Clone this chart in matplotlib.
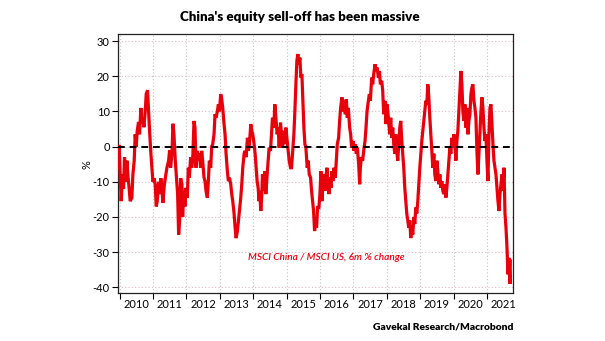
import matplotlib
matplotlib.use("Agg")
import matplotlib.pyplot as plt
import numpy as np

plt.rcParams['font.family'] = ['Lato', 'DejaVu Sans']

RED = '#e8000b'

years = list(range(2010, 2022))
year_labels = [str(y) for y in years]
y_ticks = [-40, -30, -20, -10, 0, 10, 20, 30]

dates = [
    2009.96, 2009.99, 2010.02, 2010.05, 2010.09, 2010.12, 2010.15, 2010.19, 2010.22, 2010.25,
    2010.29, 2010.32, 2010.37, 2010.40, 2010.44, 2010.47, 2010.50, 2010.53, 2010.57, 2010.60,
    2010.64, 2010.67, 2010.70, 2010.73, 2010.77, 2010.80, 2010.84, 2010.87, 2010.90, 2010.94,
    2010.97, 2011.00, 2011.04, 2011.07, 2011.10, 2011.13, 2011.17, 2011.20, 2011.24, 2011.27,
    2011.30, 2011.34, 2011.37, 2011.42, 2011.47, 2011.50, 2011.53, 2011.57, 2011.60, 2011.63,
    2011.67, 2011.70, 2011.74, 2011.77, 2011.80, 2011.83,
    2011.87, 2011.89, 2011.92, 2011.96, 2011.99, 2012.03, 2012.06, 2012.09, 2012.13, 2012.16,
    2012.19, 2012.23, 2012.26, 2012.29, 2012.33, 2012.36, 2012.39, 2012.43, 2012.46, 2012.49,
    2012.53, 2012.56, 2012.59, 2012.63, 2012.66, 2012.69, 2012.73, 2012.76, 2012.79, 2012.83,
    2012.86, 2012.89, 2012.93, 2012.96, 2012.99, 2013.03, 2013.06, 2013.09, 2013.13, 2013.16,
    2013.19, 2013.23, 2013.26, 2013.29, 2013.33, 2013.36, 2013.39, 2013.43, 2013.46, 2013.49,
    2013.53, 2013.56, 2013.59, 2013.63, 2013.66, 2013.69, 2013.73, 2013.76, 2013.79, 2013.83,
    2013.86, 2013.89, 2013.93, 2013.96, 2013.99, 2014.03, 2014.06, 2014.09,
    2014.12, 2014.15, 2014.18, 2014.20, 2014.23, 2014.26, 2014.28, 2014.32, 2014.35, 2014.38,
    2014.42, 2014.45, 2014.48, 2014.52, 2014.55, 2014.58, 2014.62, 2014.65, 2014.68, 2014.72,
    2014.75, 2014.78, 2014.82, 2014.85, 2014.88, 2014.92, 2014.95, 2014.98, 2015.02, 2015.05,
    2015.08, 2015.12, 2015.15, 2015.18, 2015.22, 2015.25, 2015.28, 2015.31, 2015.34, 2015.37,
    2015.40, 2015.43, 2015.46, 2015.49, 2015.52, 2015.55, 2015.58, 2015.62, 2015.65, 2015.68,
    2015.72, 2015.75, 2015.78, 2015.81, 2015.84, 2015.87, 2015.90, 2015.93,
    2015.97, 2016.00, 2016.03, 2016.06, 2016.09, 2016.12, 2016.15, 2016.18, 2016.21, 2016.24,
    2016.27, 2016.30, 2016.33, 2016.36, 2016.39, 2016.42, 2016.46, 2016.49, 2016.52, 2016.56,
    2016.59, 2016.62, 2016.66, 2016.69, 2016.72, 2016.76, 2016.79, 2016.82, 2016.85, 2016.89,
    2016.92, 2016.95, 2016.99, 2017.02, 2017.06, 2017.09, 2017.12, 2017.16, 2017.19, 2017.21,
    2017.24, 2017.28, 2017.31, 2017.35, 2017.38, 2017.41, 2017.45, 2017.48, 2017.51, 2017.55,
    2017.58, 2017.61, 2017.65, 2017.68, 2017.71, 2017.75, 2017.78, 2017.81, 2017.85, 2017.88,
    2017.91, 2017.95, 2017.98, 2018.01, 2018.05,
    2018.09, 2018.12, 2018.15, 2018.18, 2018.21, 2018.24, 2018.27, 2018.30, 2018.33, 2018.36,
    2018.39, 2018.42, 2018.45, 2018.48, 2018.51, 2018.54, 2018.57, 2018.60, 2018.63, 2018.66,
    2018.69, 2018.72, 2018.75, 2018.78, 2018.81, 2018.84, 2018.87, 2018.90, 2018.93, 2018.96,
    2018.99, 2019.02, 2019.05, 2019.08, 2019.11, 2019.14, 2019.17, 2019.20, 2019.23, 2019.26,
    2019.29, 2019.32, 2019.35, 2019.38, 2019.41, 2019.44, 2019.47, 2019.50, 2019.53, 2019.56,
    2019.59, 2019.62, 2019.65, 2019.68, 2019.71, 2019.74, 2019.77, 2019.80, 2019.83, 2019.86,
    2019.89, 2019.92, 2019.95, 2019.98, 2020.01, 2020.04, 2020.07, 2020.10, 2020.13,
    2020.16, 2020.19, 2020.22, 2020.25, 2020.28, 2020.31, 2020.34, 2020.37, 2020.40, 2020.43,
    2020.46, 2020.49, 2020.52, 2020.55, 2020.58, 2020.61, 2020.64, 2020.67, 2020.70, 2020.73,
    2020.76, 2020.79, 2020.82, 2020.85, 2020.88, 2020.91, 2020.94, 2020.97, 2021.00, 2021.03,
    2021.06, 2021.09, 2021.12, 2021.15, 2021.18, 2021.21, 2021.24, 2021.27, 2021.30, 2021.33,
    2021.36, 2021.39, 2021.42, 2021.45, 2021.48, 2021.51, 2021.54, 2021.57, 2021.60, 2021.63,
    2021.66, 2021.69, 2021.70,
]

values = [
    -6, 0.5, -8, -15.5, -8, -12, -3, -10, -4, -8,
    -12, -15.5, -14.5, -8, -4, 3.5, 0, 4.5, 7, 3.5,
    11, 6.5, 8, 5.5, 10, 15, 16, 10, 4.5, -2,
    -6, -10, -9, -11, -17, -15.5, -10, -13.5, -9, -12,
    -16, -11, -9, -6, -4, -1, -6, -2, 6.5, 3.5,
    -4, -8, -13.5, -25, -21, -9,
    -10.7, -20, -12.6, -17, -11.7, -14.5, -6, -8.8, -3, -6,
    -4, 7.3, 5.4, -6, -1.2, -4, -2, -6, -1.2, -4,
    -8.8, -9.8, -12.6, -14.5, -9.8, -4, -6, 0, 0.7, 3.5,
    9.2, 8.2, 10, 12, 10, 14.9, 13.5, 11, 6.4, 3.5,
    -2, -7, -9.8, -8.8, -10.7, -13.5, -15.5, -19, -23, -26,
    -24, -21, -18.3, -14.5, -10.7, -6, -2, -1.2, -3, 2.5,
    -1.2, 0.7, 6.4, 4.5, 3.5, 0.7, -2, -6,
    -9.8, -11.7, -15.5, -12.6, -18.3, -13.5, -7.9, -12.6, -7, -13.5,
    -7.9, -4, -0.3, -1.2, 3.5, 8.2, 5.4, 12, 8.2, 3.5,
    5.4, -0.3, 6.8, 3.5, -0.3, 4.5, 0.7, 5.4, 1.6, -1.2,
    -4, -6, -6, -2, 3.5, 10, 17.7, 24.4, 26.3, 23.4,
    25.3, 19.6, 20.6, 13, 5.4, 0.7, -0.3, -6, -4, -7.9,
    -8.8, -12.6, -15.5, -18.3, -24, -21, -23, -17.3,
    -17.3, -13.5, -7, -15.5, -10.7, -7.9, -12.6, -8.8, -6, -9.8,
    -13.5, -8.8, -11.7, -7, -9.8, -6, -8.8, -4, 0.7, 2.5,
    7.3, 11, 14, 10, 13, 9.2, 13.5, 8.2, 11, 5.4,
    3.5, -0.3, 1.6, -1.2, 0.7, -2, -0.3, -5, -10.7, -6,
    -3, -4, -1.2, 1.6, 5.4, 10, 13, 14.9, 13, 19.6,
    17.7, 20.6, 23.4, 21.5, 22.5, 19.6, 21.5, 17.7, 18.7, 15.8,
    9.2, 13, 6.4, 12, 8.2,
    3.5, 8.2, 2.5, 5.4, 0.7, -2, 3.5, -1.2, -4, 0.7,
    5.4, 7.3, 1.6, -2, -6, -11.7, -15.5, -19, -21, -23,
    -21, -26, -23, -25, -20, -22, -17.3, -19, -15.5, -10.7,
    -6, -2, 1.6, 4.5, 7.3, 10, 13, 12, 17.7, 14,
    8.2, 3.5, -1.2, -6, -2, -7.9, -9.8, -4, -7, -10.7,
    -7.9, -11.7, -9.8, -12.6, -13.5, -10.7, -14.5, -11.7, -7.9, -4,
    -0.3, -2, 2.5, -0.3, 3.5, 0.7, -4, 1.6, 4.5,
    10, 14.9, 21.5, 17.7, 10, 7.3, 12, 5.4, 11, 3.5,
    7.3, 9.2, 14.9, 16.8, 17.7, 13, 11, 8.2, -1.2, -7.9,
    -2, 3.5, 10, 14, 11, 5.4, 1.6, 3.5, -4, -9.8,
    3.5, 11, 12, 6.4, 0.7, -4, -6, -7.9, -11.7, -15.5,
    -18.3, -13.5, -10.7, -7.9, -12.6, -6, -19, -23, -28.7, -36.3,
    -31.6, -39, -32.5,
]

fig = plt.figure(figsize=(6.05, 3.41), dpi=100)
ax = fig.add_axes([118/605, 1-293/341, (513-118)/605, (293-34)/341])

ax.plot(dates, values, color=RED, lw=2.3, zorder=3, solid_joinstyle='miter')
ax.axhline(0, color='black', lw=1.4, ls=(0, (3.5, 2.5)), zorder=4)

ax.set_xlim(2009.955, 2021.78)
ax.set_ylim(-41.6, 32)

ax.set_xticks(years)
ax.set_xticklabels([])
ax.set_xticks([y + 0.5 for y in years], minor=True)
ax.set_xticklabels(year_labels, minor=True)
ax.tick_params(axis='x', which='major', direction='out', length=4, width=0.8)
ax.tick_params(axis='x', which='minor', length=0, labelsize=8, pad=4)

ax.set_yticks(y_ticks)
ax.set_yticklabels([str(v) for v in y_ticks])
ax.tick_params(axis='y', which='major', direction='out', length=4, width=0.8, labelsize=8, pad=2)

ax.grid(axis='x', which='major', ls=(0, (1, 2)), color='#c4c4c4', lw=0.8, zorder=0)
ax.grid(axis='y', which='major', ls=(0, (1, 2)), color='#e0b8c4', lw=0.8, zorder=0)

for s in ax.spines.values():
    s.set_linewidth(0.9)
    s.set_color('#222222')

fig.text(0.496, 1-17/341, "China's equity sell-off has been massive",
         ha='center', va='center', fontsize=9.6, weight='heavy')
fig.text(513/605, 1-327/341, 'Gavekal Research/Macrobond',
         ha='right', va='center', fontsize=7.4, weight='heavy')
fig.text(87/605, 1-165/341, '%', rotation=90, ha='center', va='center', fontsize=8)
ax.text(2013.84, -31.6, 'MSCI China / MSCI US, 6m % change', color=RED,
        style='italic', fontsize=7.3, weight='semibold', ha='left', va='center')

fig.savefig('out.png', dpi=100)
